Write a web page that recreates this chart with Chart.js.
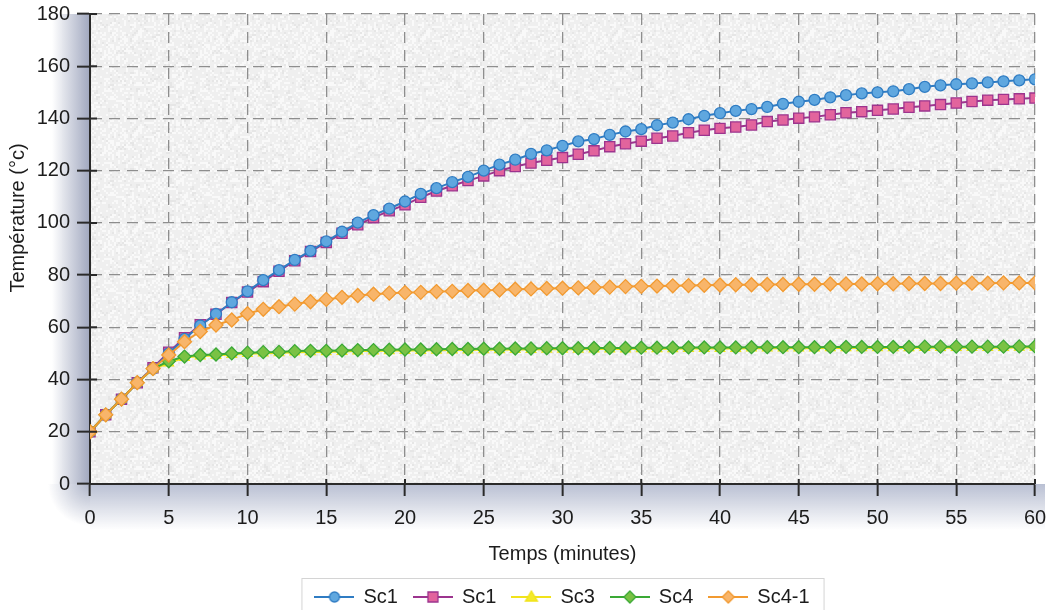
<!DOCTYPE html>
<html>
<head>
<meta charset="utf-8">
<script src="https://cdn.jsdelivr.net/npm/chart.js@4.4.1/dist/chart.umd.min.js"></script>
<style>
  html, body { margin: 0; padding: 0; background: #fff; }
  #wrap { width: 1058px; height: 610px; }
</style>
</head>
<body>
<div id="wrap"><canvas id="chart" width="1058" height="610"></canvas></div>
<script>
// minutes 0..60
const minutes = [0, 1, 2, 3, 4, 5, 6, 7, 8, 9, 10, 11, 12, 13, 14, 15, 16, 17, 18, 19, 20,
  21, 22, 23, 24, 25, 26, 27, 28, 29, 30, 31, 32, 33, 34, 35, 36, 37, 38, 39, 40,
  41, 42, 43, 44, 45, 46, 47, 48, 49, 50, 51, 52, 53, 54, 55, 56, 57, 58, 59, 60];

const sc1 = [20, 26.5, 32.5, 38.8, 44.2, 50, 55.6, 60.7, 65.1, 69.6, 73.8, 78.1, 81.9, 85.8, 89.3, 92.9, 96.6, 100.1, 103, 105.5, 108.2,
  111.1, 113.3, 115.6, 117.6, 120, 122.3, 124.2, 126.4, 127.8, 129.5, 131.2, 132.1, 133.7, 135, 135.9, 137.4, 138.4, 139.7, 141, 142,
  142.9, 143.6, 144.4, 145.6, 146.4, 147.1, 148.1, 148.9, 149.6, 150, 150.4, 151.2, 152.1, 152.7, 153.1, 153.4, 153.8, 154.2, 154.6, 155];

const sc1b = [20, 26.5, 32.5, 38.8, 44.5, 50.5, 56, 61, 65, 69.5, 73.5, 77.5, 81.5, 85.5, 89, 92.5, 96, 99.3, 102, 104.6, 106.9,
  109.8, 112.2, 114.2, 116.2, 118, 120, 121.6, 122.9, 124, 125, 126.3, 127.6, 129.2, 130.3, 131.3, 132.4, 133.3, 134.5, 135.5, 136.2,
  136.7, 137.5, 138.8, 139.4, 140.1, 140.6, 141.4, 142.2, 142.6, 143.1, 143.6, 144.3, 144.8, 145.3, 145.9, 146.5, 147, 147.3, 147.5, 147.8];

const sc3 = [20, 26.5, 32.5, 38.8, 44, 46.3, 48.4, 49, 49.2, 49.6, 49.9, 50.1, 50.2, 50.5, 50.6, 50.6, 50.7, 50.9, 50.9, 51, 51.1,
  51.1, 51.2, 51.3, 51.3, 51.4, 51.4, 51.5, 51.5, 51.6, 51.6, 51.6, 51.7, 51.7, 51.7, 51.8, 51.8, 51.8, 51.9, 51.9, 51.9,
  51.9, 52, 52, 52, 52, 52, 52.1, 52.1, 52.1, 52.1, 52.1, 52.1, 52.2, 52.2, 52.2, 52.2, 52.2, 52.2, 52.3, 52.3];

const sc4 = [20, 26.5, 32.5, 38.8, 44.2, 47, 48.8, 49.4, 49.6, 50, 50.3, 50.5, 50.6, 50.9, 51, 51, 51.1, 51.3, 51.3, 51.4, 51.5,
  51.5, 51.6, 51.7, 51.7, 51.8, 51.8, 51.9, 51.9, 52, 52, 52, 52.1, 52.1, 52.1, 52.2, 52.2, 52.2, 52.3, 52.3, 52.3,
  52.3, 52.4, 52.4, 52.4, 52.4, 52.4, 52.5, 52.5, 52.5, 52.5, 52.5, 52.5, 52.6, 52.6, 52.6, 52.6, 52.6, 52.6, 52.7, 52.7];

const sc41 = [20, 26.5, 32.5, 38.8, 44.2, 49.4, 54.5, 58.4, 60.9, 62.8, 65.2, 66.9, 67.9, 68.9, 69.8, 70.7, 71.5, 72.2, 72.7, 73.1, 73.3,
  73.4, 73.7, 73.8, 74.1, 74.2, 74.3, 74.6, 74.7, 74.9, 75, 75.1, 75.3, 75.4, 75.6, 75.7, 75.8, 75.9, 76, 76.1, 76.2,
  76.3, 76.3, 76.4, 76.4, 76.5, 76.5, 76.6, 76.6, 76.6, 76.7, 76.7, 76.8, 76.8, 76.8, 76.9, 76.9, 76.9, 77, 77, 77];

const seriesLabels = ['Sc1', 'Sc1', 'Sc3', 'Sc4', 'Sc4-1'];
const xTitle = 'Temps (minutes)';
const yTitle = 'Température (°c)';

const FONT = '"Liberation Sans", Arial, Helvetica, sans-serif';
const TEXT = '#1c1c1c';
const AXIS = '#2a2a2a';

function series(label, data, line, fill, style, radius, order) {
  return {
    label, data, order,
    borderColor: line, borderWidth: 2,
    pointStyle: style, pointRadius: radius, pointHoverRadius: radius,
    pointBackgroundColor: fill, pointBorderColor: line, pointBorderWidth: 1.3,
    tension: 0, fill: false
  };
}

const datasets = [
  series(seriesLabels[0], sc1, '#2f7cc3', '#5fa7df', 'circle', 5.5, 3),
  series(seriesLabels[1], sc1b, '#9c348e', '#e2649d', 'rect', 7.2, 4),
  series(seriesLabels[2], sc3, '#f1e31a', '#f4ea2a', 'triangle', 5.5, 2),
  series(seriesLabels[3], sc4, '#3aa935', '#7ac244', 'rectRot', 6.5, 1),
  series(seriesLabels[4], sc41, '#f29a30', '#f8b56a', 'rectRot', 7, 0)
];

// small line + marker pictures for the legend
function legendIcon(ds) {
  const c = document.createElement('canvas');
  c.width = 40; c.height = 16;
  const g = c.getContext('2d');
  g.strokeStyle = ds.borderColor; g.lineWidth = 2;
  g.beginPath(); g.moveTo(0, 8); g.lineTo(40, 8); g.stroke();
  g.fillStyle = ds.pointBackgroundColor; g.strokeStyle = ds.pointBorderColor; g.lineWidth = 1.3;
  g.beginPath();
  const r = 5;
  if (ds.pointStyle === 'circle') g.arc(20, 8, r, 0, Math.PI * 2);
  else if (ds.pointStyle === 'rect') g.rect(20 - r, 8 - r, 2 * r, 2 * r);
  else if (ds.pointStyle === 'triangle') { g.moveTo(20, 2); g.lineTo(26, 12); g.lineTo(14, 12); g.closePath(); }
  else { g.moveTo(20, 8 - r - 1); g.lineTo(26, 8); g.lineTo(20, 8 + r + 1); g.lineTo(14, 8); g.closePath(); }
  g.fill(); g.stroke();
  return c;
}
const icons = datasets.map(legendIcon);

// light paper-like speckle for the plot area (decoration only)
function paperPattern() {
  const c = document.createElement('canvas');
  c.width = 96; c.height = 96;
  const g = c.getContext('2d');
  g.fillStyle = '#efefef';
  g.fillRect(0, 0, 96, 96);
  for (let y = 0; y < 96; y += 2) {
    for (let x = 0; x < 96; x += 2) {
      const h = Math.sin(x * 12.9898 + y * 78.233) * 43758.5453;
      const v = h - Math.floor(h);
      if (v > 0.7) { g.fillStyle = 'rgba(255,255,255,0.6)'; g.fillRect(x, y, 2, 2); }
      else if (v < 0.1) { g.fillStyle = 'rgba(215,215,215,0.35)'; g.fillRect(x, y, 2, 2); }
    }
  }
  return c;
}
const paper = paperPattern();

const backdrop = {
  id: 'backdrop',
  afterLayout(chart) {
    // centre the legend under the plot and push it toward the bottom edge
    const lg = chart.legend, a = chart.chartArea;
    lg.left = a.left - (lg.right - a.right);
    lg.width = lg.right - lg.left;
    lg.top += 7;
    lg.bottom += 7;
  },
  beforeDraw(chart) {
    const { ctx, chartArea: a } = chart;
    ctx.save();
    // bluish shade along the left axis
    let g = ctx.createLinearGradient(a.left - 38, 0, a.left, 0);
    g.addColorStop(0, 'rgba(150,158,184,0)');
    g.addColorStop(1, 'rgba(150,158,184,0.9)');
    ctx.fillStyle = g;
    ctx.fillRect(a.left - 38, a.top, 38, a.bottom - a.top);
    // shade under the bottom axis
    const bg = ctx.createLinearGradient(0, a.bottom, 0, a.bottom + 46);
    bg.addColorStop(0, 'rgba(168,176,200,0.8)');
    bg.addColorStop(1, 'rgba(168,176,200,0)');
    ctx.fillStyle = bg;
    ctx.fillRect(a.left, a.bottom, a.right - a.left + 10, 46);
    // corner piece
    const rg = ctx.createRadialGradient(a.left, a.bottom, 0, a.left, a.bottom, 42);
    rg.addColorStop(0, 'rgba(160,168,192,0.85)');
    rg.addColorStop(1, 'rgba(160,168,192,0)');
    ctx.fillStyle = rg;
    ctx.fillRect(a.left - 42, a.bottom, 42, 42);
    ctx.fillStyle = ctx.createPattern(paper, 'repeat');
    ctx.fillRect(a.left, a.top, a.right - a.left, a.bottom - a.top);
    ctx.restore();
  },
  afterDraw(chart) {
    const ctx = chart.ctx;
    const a = chart.chartArea;
    const xs = chart.scales.x, ys = chart.scales.y;
    // short tick stubs inside the plot, like the original
    ctx.save();
    ctx.strokeStyle = AXIS;
    ctx.lineWidth = 2;
    ctx.beginPath();
    xs.ticks.forEach(t => { const px = xs.getPixelForValue(t.value); ctx.moveTo(px, a.bottom); ctx.lineTo(px, a.bottom - 5); });
    ys.ticks.forEach(t => { const py = ys.getPixelForValue(t.value); ctx.moveTo(a.left, py); ctx.lineTo(a.left + 7, py); });
    ctx.stroke();
    ctx.restore();
    // y axis title
    ctx.save();
    ctx.translate(18, 218);
    ctx.rotate(-Math.PI / 2);
    ctx.font = '20px ' + FONT;
    ctx.fillStyle = TEXT;
    ctx.textAlign = 'center';
    ctx.textBaseline = 'middle';
    ctx.fillText(yTitle, 0, 0);
    ctx.restore();
    // frame round the legend
    const boxes = chart.legend.legendHitBoxes;
    if (boxes && boxes.length) {
      const l = Math.min(...boxes.map(b => b.left)) - 14;
      const r = Math.max(...boxes.map(b => b.left + b.width)) + 14;
      const t = Math.min(...boxes.map(b => b.top)) - 9;
      ctx.save();
      ctx.strokeStyle = '#d4d4d4';
      ctx.lineWidth = 1;
      ctx.strokeRect(l + 0.5, t + 0.5, r - l, chart.height - t + 5);
      ctx.restore();
    }
  }
};

new Chart(document.getElementById('chart'), {
  type: 'line',
  data: { labels: minutes, datasets },
  plugins: [backdrop],
  options: {
    responsive: false,
    animation: false,
    layout: { padding: { left: 0, right: 23, top: 0, bottom: 0 } },
    plugins: {
      tooltip: { enabled: false },
      legend: {
        position: 'bottom',
        labels: {
          usePointStyle: true,
          pointStyleWidth: 38,
          padding: 16,
          color: TEXT,
          font: { family: FONT, size: 20 },
          generateLabels: chart => chart.data.datasets.map((ds, i) => ({
            text: ds.label,
            pointStyle: icons[i],
            datasetIndex: i,
            hidden: false,
            fontColor: TEXT,
            lineWidth: 0,
            fillStyle: 'transparent',
            strokeStyle: 'transparent'
          }))
        }
      }
    },
    scales: {
      x: {
        type: 'linear',
        min: 0, max: 60,
        ticks: { stepSize: 5, color: TEXT, font: { family: FONT, size: 20 }, padding: 10, maxRotation: 0 },
        grid: { color: '#8e8e8e', lineWidth: 1.3, tickColor: AXIS, tickLength: 12, tickWidth: 2 },
        border: { color: AXIS, width: 2, dash: [11, 7] },
        title: { display: true, text: xTitle, color: TEXT, font: { family: FONT, size: 20 }, padding: { top: 0, bottom: -2 } },
        afterFit: s => { s.height = 80; }
      },
      y: {
        min: 0, max: 180,
        ticks: { stepSize: 20, color: TEXT, font: { family: FONT, size: 20 }, padding: 7 },
        grid: { color: '#8e8e8e', lineWidth: 1.3, tickColor: AXIS, tickLength: 13, tickWidth: 2 },
        border: { color: AXIS, width: 2, dash: [11, 7] },
        afterFit: s => { s.width = 90; s.paddingTop = 14; }
      }
    }
  }
});
</script>
</body>
</html>
